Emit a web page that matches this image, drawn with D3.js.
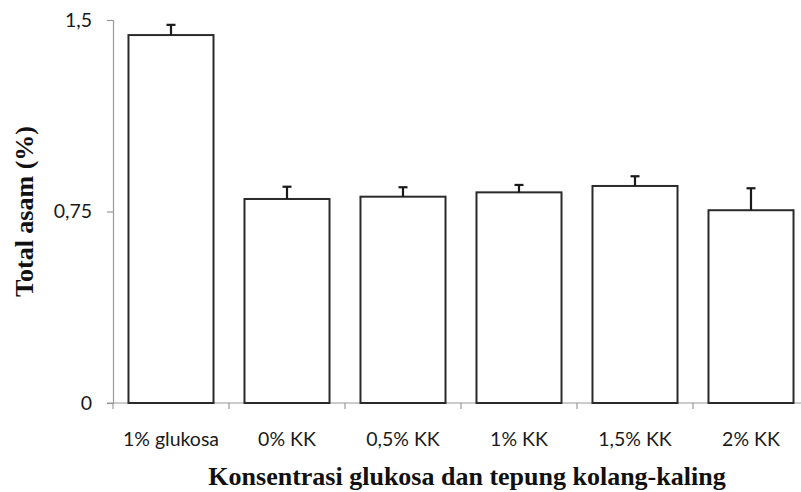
<!DOCTYPE html>
<html>
<head>
<meta charset="utf-8">
<script src="https://cdn.jsdelivr.net/npm/d3@7"></script>
<style>
  html, body { margin: 0; padding: 0; background: #fff; }
  svg { display: block; }
</style>
</head>
<body>
<svg id="chart" width="801" height="492"></svg>
<script>
const categories = ["1% glukosa", "0% KK", "0,5% KK", "1% KK", "1,5% KK", "2% KK"];
const values = [1.441, 0.799, 0.808, 0.825, 0.850, 0.755];
const errors = [0.040, 0.048, 0.037, 0.029, 0.038, 0.086];
const yTicks = [0, 0.75, 1.5];
const yTickLabels = ["0", "0,75", "1,5"];
const yTitle = "Total asam (%)";
const xTitle = "Konsentrasi glukosa dan tepung kolang-kaling";

const svg = d3.select("#chart");
const margin = { left: 113, right: -8, top: 20, bottom: 89 };
const W = 801, H = 492;

const x = d3.scaleBand().domain(categories)
  .range([margin.left, W - margin.right])
  .paddingInner(0.267).paddingOuter(0.1335);
const y = d3.scaleLinear().domain([0, 1.5]).range([H - margin.bottom, margin.top]);

const axisColor = "#9a9a9a";
const tickFont = "Lato, 'Open Sans', sans-serif";

// Y axis
const yAxis = svg.append("g")
  .attr("transform", `translate(${margin.left},0)`)
  .call(d3.axisLeft(y).tickValues(yTicks).tickFormat((d, i) => yTickLabels[i]).tickSize(6).tickPadding(15));
yAxis.select(".domain").attr("stroke", axisColor).attr("stroke-width", 1.2);
yAxis.selectAll(".tick line").attr("stroke", axisColor).attr("stroke-width", 1.2);
yAxis.selectAll(".tick text").attr("fill", "#1a1a1a").style("font-family", tickFont).style("font-size", "19.5px");

// X axis
const xBoundaries = categories.map(c => x(c) - x.step() * x.paddingInner() / 2);
const xAxisG = svg.append("g").attr("transform", `translate(0,${y(0)})`);
xAxisG.append("line")
  .attr("x1", margin.left - 6).attr("x2", W)
  .attr("y1", 0).attr("y2", 0)
  .attr("stroke", axisColor).attr("stroke-width", 1.2);
xAxisG.selectAll("line.tk").data(xBoundaries).enter().append("line")
  .attr("class", "tk")
  .attr("x1", d => d).attr("x2", d => d)
  .attr("y1", 0).attr("y2", 6)
  .attr("stroke", axisColor).attr("stroke-width", 1.2);
xAxisG.selectAll("text").data(categories).enter().append("text")
  .attr("x", d => x(d) + x.bandwidth() / 2)
  .attr("y", 43)
  .attr("text-anchor", "middle")
  .attr("fill", "#1a1a1a")
  .style("font-family", tickFont).style("font-size", "19.5px")
  .text(d => d);

// Bars
svg.append("g").selectAll("rect").data(categories).enter().append("rect")
  .attr("x", d => x(d))
  .attr("y", (d, i) => y(values[i]))
  .attr("width", x.bandwidth())
  .attr("height", (d, i) => y(0) - y(values[i]))
  .attr("fill", "#fff")
  .attr("stroke", "#2a2a2a")
  .attr("stroke-width", 2);

// Error bars
const eb = svg.append("g");
categories.forEach((c, i) => {
  const cx = x(c) + x.bandwidth() / 2;
  eb.append("line")
    .attr("x1", cx).attr("x2", cx)
    .attr("y1", y(values[i])).attr("y2", y(values[i] + errors[i]))
    .attr("stroke", "#1a1a1a").attr("stroke-width", 2.2);
  eb.append("line")
    .attr("x1", cx - 4.5).attr("x2", cx + 4.5)
    .attr("y1", y(values[i] + errors[i])).attr("y2", y(values[i] + errors[i]))
    .attr("stroke", "#1a1a1a").attr("stroke-width", 2.2);
});

// Titles
svg.append("text")
  .attr("transform", `translate(33,${(y(0) + y(1.5)) / 2}) rotate(-90)`)
  .attr("text-anchor", "middle")
  .style("font-family", "'Liberation Serif', 'Times New Roman', serif")
  .style("font-weight", "bold").style("font-size", "26px")
  .attr("fill", "#111")
  .text(yTitle);

svg.append("text")
  .attr("x", 467).attr("y", 485)
  .attr("text-anchor", "middle")
  .style("font-family", "'Liberation Serif', 'Times New Roman', serif")
  .style("font-weight", "bold").style("font-size", "26px")
  .attr("fill", "#111")
  .text(xTitle);
</script>
</body>
</html>
